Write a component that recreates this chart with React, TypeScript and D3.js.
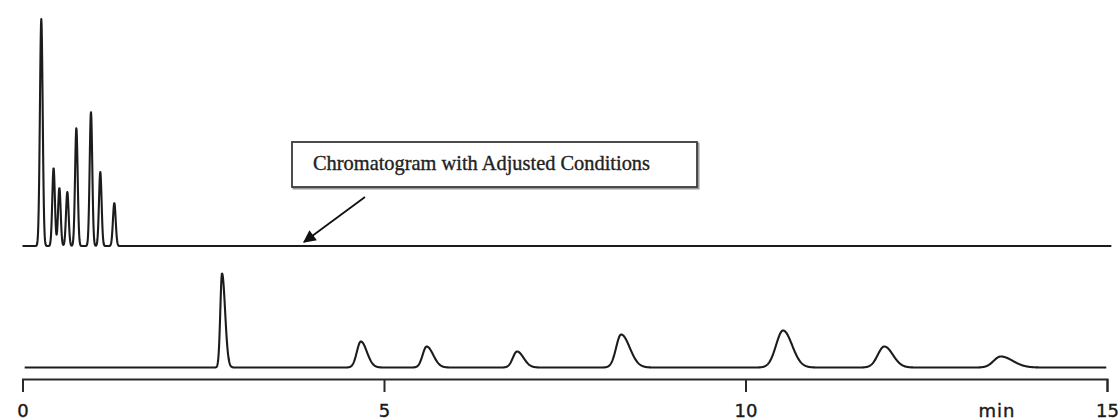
import React, { useEffect, useRef } from "react";
import * as d3 from "d3";

// Peak table: retention time (min), height, front / tail widths (min)
const upperTimes = [0.26, 0.43, 0.51, 0.62, 0.745, 0.947, 1.076, 1.27];
const upperHeights = [227, 78, 58, 54, 118, 134, 74, 43];
const upperWidths = [0.019, 0.018, 0.018, 0.018, 0.018, 0.018, 0.018, 0.019];
const upperRange = [0, 15.06];

const lowerTimes = [2.76, 4.68, 5.59, 6.84, 8.28, 10.52, 11.92, 13.53];
const lowerHeights = [94, 26, 21, 16, 33, 37, 21, 11];
const lowerFront = [0.024, 0.055, 0.055, 0.058, 0.069, 0.097, 0.09, 0.097];
const lowerTail = [0.042, 0.083, 0.09, 0.09, 0.118, 0.124, 0.118, 0.166];
const lowerRange = [0.03, 14.99];

const tickValues = [0, 5, 10, 15];
const axisUnit = "min";
const annotation = "Chromatogram with Adjusted Conditions";
const arrowTarget = 3.88; // min, on the upper baseline

// trace built from the peak table (asymmetric gaussian per peak)
const buildTrace = (times, heights, front, tail, range) => {
  const pts = [];
  for (let t = range[0]; t <= range[1] + 1e-9; t += 0.004) {
    let v = 0;
    times.forEach((rt, i) => {
      const s = t < rt ? front[i] : tail[i];
      const z = (t - rt) / s;
      if (Math.abs(z) < 8) v += heights[i] * Math.exp(-0.5 * z * z);
    });
    pts.push([t, v]);
  }
  return pts;
};

const App = () => {
  const ref = useRef(null);

  useEffect(() => {
    const width = 1120;
    const height = 420;

    const svg = d3.select(ref.current).attr("width", width).attr("height", height);
    svg.selectAll("*").remove();

    const x = d3.scaleLinear().domain([0, 15]).range([22.5, 1107]);
    const yUp = d3.scaleLinear().domain([0, 227]).range([246, 19]);
    const yLow = d3.scaleLinear().domain([0, 227]).range([367.5, 140.5]);

    const upper = buildTrace(upperTimes, upperHeights, upperWidths, upperWidths, upperRange);
    const lower = buildTrace(lowerTimes, lowerHeights, lowerFront, lowerTail, lowerRange);

    const lineUp = d3.line().x((d) => x(d[0])).y((d) => yUp(d[1]));
    const lineLow = d3.line().x((d) => x(d[0])).y((d) => yLow(d[1]));

    svg.append("rect").attr("width", width).attr("height", height).attr("fill", "#fff");

    // traces
    [
      [upper, lineUp],
      [lower, lineLow],
    ].forEach(([data, gen]) => {
      svg
        .append("path")
        .datum(data)
        .attr("d", gen)
        .attr("fill", "none")
        .attr("stroke", "#1c1c1c")
        .attr("stroke-width", 2.1)
        .attr("stroke-linejoin", "round");
    });

    // time axis (bracket style)
    const axis = svg
      .append("g")
      .attr("transform", "translate(0,379)")
      .call(
        d3
          .axisBottom(x)
          .tickValues(tickValues)
          .tickSize(13)
          .tickSizeOuter(13)
          .tickPadding(12)
      );
    axis.selectAll("path, line").attr("stroke", "#2a2a2a").attr("stroke-width", 2);
    axis
      .selectAll("text")
      .attr("font-family", "'DejaVu Sans', sans-serif")
      .attr("font-size", 18)
      .attr("fill", "#1a1a1a")
      .attr("stroke", "#1a1a1a")
      .attr("stroke-width", 0.4);

    svg
      .append("text")
      .attr("x", 997)
      .attr("y", 417)
      .attr("text-anchor", "middle")
      .attr("font-family", "'DejaVu Sans', sans-serif")
      .attr("font-size", 18)
      .attr("letter-spacing", 1)
      .attr("fill", "#1a1a1a")
      .attr("stroke", "#1a1a1a")
      .attr("stroke-width", 0.4)
      .text(axisUnit);

    // annotation box
    svg
      .append("rect")
      .attr("x", 293.5)
      .attr("y", 143.5)
      .attr("width", 405)
      .attr("height", 45)
      .attr("fill", "none")
      .attr("stroke", "#999")
      .attr("stroke-width", 2);
    svg
      .append("rect")
      .attr("x", 292)
      .attr("y", 142)
      .attr("width", 405)
      .attr("height", 45)
      .attr("fill", "#fff")
      .attr("stroke", "#3a3a3a")
      .attr("stroke-width", 1.8);
    svg
      .append("text")
      .attr("x", 313)
      .attr("y", 170)
      .attr("font-family", "'Liberation Serif', serif")
      .attr("font-size", 20.4)
      .attr("fill", "#222")
      .attr("stroke", "#222")
      .attr("stroke-width", 0.35)
      .text(annotation);

    // arrow
    svg
      .append("defs")
      .append("marker")
      .attr("id", "arrowhead")
      .attr("viewBox", "0 0 10 10")
      .attr("refX", 9)
      .attr("refY", 5)
      .attr("markerWidth", 9)
      .attr("markerHeight", 7)
      .attr("markerUnits", "strokeWidth")
      .attr("orient", "auto")
      .append("path")
      .attr("d", "M0,0L10,5L0,10Z")
      .attr("fill", "#111");
    svg
      .append("line")
      .attr("x1", 365)
      .attr("y1", 197)
      .attr("x2", x(arrowTarget) + 1)
      .attr("y2", yUp(4))
      .attr("stroke", "#111")
      .attr("stroke-width", 1.8)
      .attr("marker-end", "url(#arrowhead)");
  }, []);

  return (
    <div style={{ position: "absolute", left: 0, top: 0 }}>
      <svg ref={ref} style={{ display: "block" }}></svg>
    </div>
  );
};

export default App;
